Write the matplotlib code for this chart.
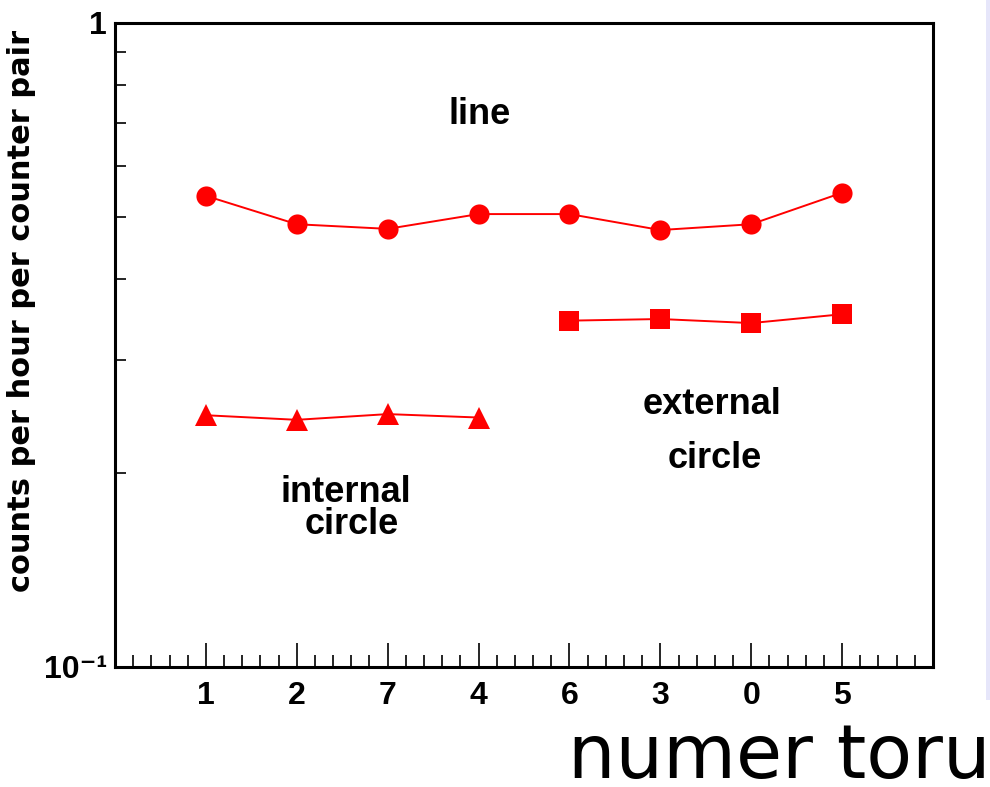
import matplotlib
matplotlib.use("Agg")
import matplotlib.pyplot as plt
from matplotlib.ticker import FixedLocator, MultipleLocator, NullFormatter
from matplotlib.patches import Rectangle

# ---- data ----
torus_labels = ["1", "2", "7", "4", "6", "3", "0", "5"]
line_vals = [0.539, 0.487, 0.479, 0.505, 0.505, 0.477, 0.487, 0.545]
external_labels = ["6", "3", "0", "5"]
external_vals = [0.345, 0.347, 0.342, 0.353]
internal_labels = ["1", "2", "7", "4"]
internal_vals = [0.246, 0.242, 0.247, 0.244]
ytick_labels = ["10\u207b\u00b9", "1"]
ylabel = "counts per hour per counter pair"
xlabel = "numer toru"

plt.rcParams["font.family"] = ["Liberation Sans", "DejaVu Sans"]

fig = plt.figure(figsize=(9.9, 7.87), dpi=100)
ax = fig.add_axes([115/990, 1-667/787, (933-115)/990, (667-23)/787])

pos = {lab: i + 1 for i, lab in enumerate(torus_labels)}
red = "#ff0000"
ax.plot([pos[l] for l in torus_labels], line_vals, color=red, lw=1.4,
        marker="o", markersize=14.5, markeredgewidth=0)
ax.plot([pos[l] for l in external_labels], external_vals, color=red, lw=1.4,
        marker="s", markersize=14.5, markeredgewidth=0)
ax.plot([pos[l] for l in internal_labels], internal_vals, color=red, lw=1.4,
        marker="^", markersize=15.5, markeredgewidth=0)

ax.set_yscale("log")
ax.set_ylim(0.1, 1)
ax.set_xlim(0, len(torus_labels) + 1)

ax.set_xticks(range(1, len(torus_labels) + 1))
ax.set_xticklabels(torus_labels)
ax.xaxis.set_minor_locator(MultipleLocator(0.2))
ax.set_yticks([0.1, 1])
ax.set_yticklabels(ytick_labels)
ax.yaxis.set_minor_locator(FixedLocator([0.2, 0.3, 0.4, 0.5, 0.6, 0.7, 0.8, 0.9]))
ax.yaxis.set_minor_formatter(NullFormatter())

ax.tick_params(axis="x", which="major", direction="in", length=17, width=1.2,
               labelsize=23, pad=10, top=False)
ax.tick_params(axis="x", which="minor", direction="in", length=8.5, width=1.2, top=False)
ax.tick_params(axis="y", which="major", direction="in", length=8, width=1.2,
               labelsize=23, pad=6, right=False)
ax.tick_params(axis="y", which="minor", direction="in", length=8, width=1.2, right=False)
for lab in ax.get_xticklabels() + ax.get_yticklabels():
    lab.set_fontweight("bold")

for s in ax.spines.values():
    s.set_linewidth(2.2)
    s.set_color("black")

ax.set_ylabel(ylabel, fontsize=22, fontweight="bold", family=["DejaVu Sans"])
ax.yaxis.set_label_coords(-0.097, (667-311)/644)

ann = dict(fontsize=26, fontweight="bold", ha="center", va="center")
fig.text(480/990, 1-114/787, "line", **ann)
fig.text(346/990, 1-492/787, "internal", **ann)
fig.text(352/990, 1-524/787, "circle", **ann)
fig.text(712/990, 1-405/787, "external", **ann)
fig.text(715/990, 1-458/787, "circle", **ann)

fig.text(568/990, 1-778/787, xlabel, fontsize=54, family="DejaVu Sans", ha="left", va="baseline")

fig.patches.append(Rectangle((986/990, 1-700/787), 4/990, 700/787, transform=fig.transFigure,
                             facecolor="#e6e6fa", edgecolor="none", zorder=-1))

fig.savefig("out.png", dpi=100)
